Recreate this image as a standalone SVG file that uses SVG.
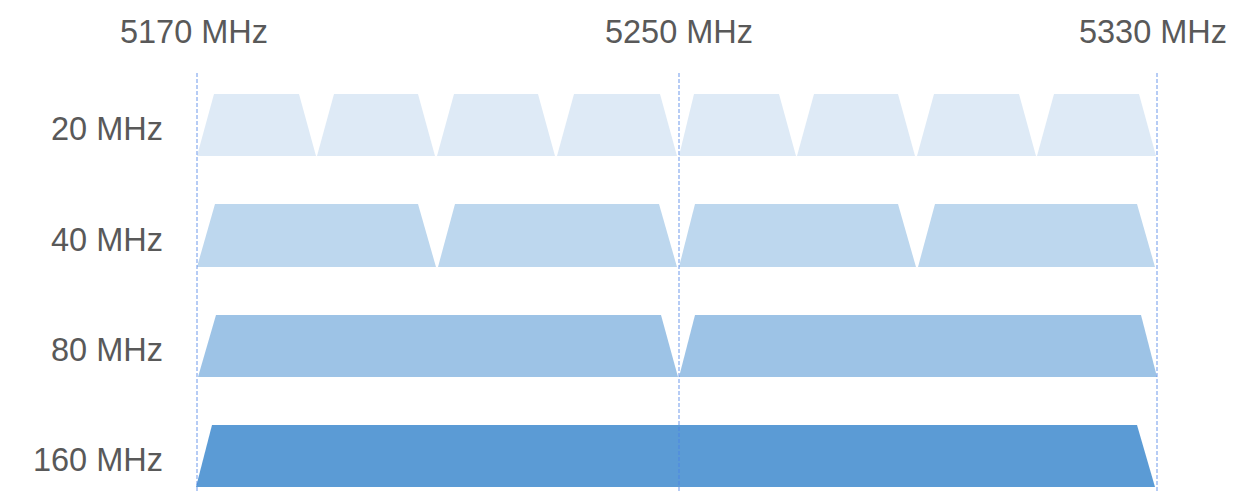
<svg xmlns="http://www.w3.org/2000/svg" width="1258" height="497" viewBox="0 0 1258 497">
<style>
text{font-family:"Liberation Sans",Arial,sans-serif;font-size:32.5px;fill:#595959}
.top{text-anchor:middle}
.lbl{text-anchor:end}
.r1{fill:#deeaf6}
.r2{fill:#bdd7ee}
.r3{fill:#9dc3e6}
.r4{fill:#5b9bd5}
.grid{stroke:#4a7fe6;stroke-opacity:0.8;stroke-width:1;stroke-dasharray:4 2;fill:none}
</style>
<rect width="1258" height="497" fill="#ffffff"/>
<g id="freq-labels">
<text class="top" x="194" y="43">5170 MHz</text>
<text class="top" x="679" y="43">5250 MHz</text>
<text class="top" x="1153" y="43">5330 MHz</text>
</g>
<g id="row-labels">
<text class="lbl" x="163" y="140">20 MHz</text>
<text class="lbl" x="163" y="251">40 MHz</text>
<text class="lbl" x="163" y="361">80 MHz</text>
<text class="lbl" x="163" y="471">160 MHz</text>
</g>
<g id="row-20">
<polygon class="r1" points="197,156 214,94 299,94 316,156"/>
<polygon class="r1" points="317,156 334,94 418,94 435,156"/>
<polygon class="r1" points="437,156 454,94 538,94 555,156"/>
<polygon class="r1" points="557,156 574,94 660,94 677,156"/>
<polygon class="r1" points="679,156 694,94 779,94 796,156"/>
<polygon class="r1" points="797,156 814,94 898,94 915,156"/>
<polygon class="r1" points="917,156 934,94 1019,94 1036,156"/>
<polygon class="r1" points="1037,156 1054,94 1139,94 1156,156"/>
</g>
<g id="row-40">
<polygon class="r2" points="197,267 215,204 418,204 436,267"/>
<polygon class="r2" points="438,267 455,204 659,204 677,267"/>
<polygon class="r2" points="679,267 695,204 898,204 916,267"/>
<polygon class="r2" points="918,267 935,204 1137,204 1155,267"/>
</g>
<g id="row-80">
<polygon class="r3" points="198,377 216,315 661,315 678,377"/>
<polygon class="r3" points="679,377 695,315 1141,315 1157,377"/>
</g>
<g id="row-160">
<polygon class="r4" points="196,487 212,425 1137,425 1155,487"/>
</g>
<g id="connectors">
<line class="grid" x1="197" y1="73" x2="197" y2="492"/>
<line class="grid" x1="679" y1="73" x2="679" y2="492"/>
<line class="grid" x1="1157" y1="73" x2="1157" y2="492"/>
</g>
</svg>
